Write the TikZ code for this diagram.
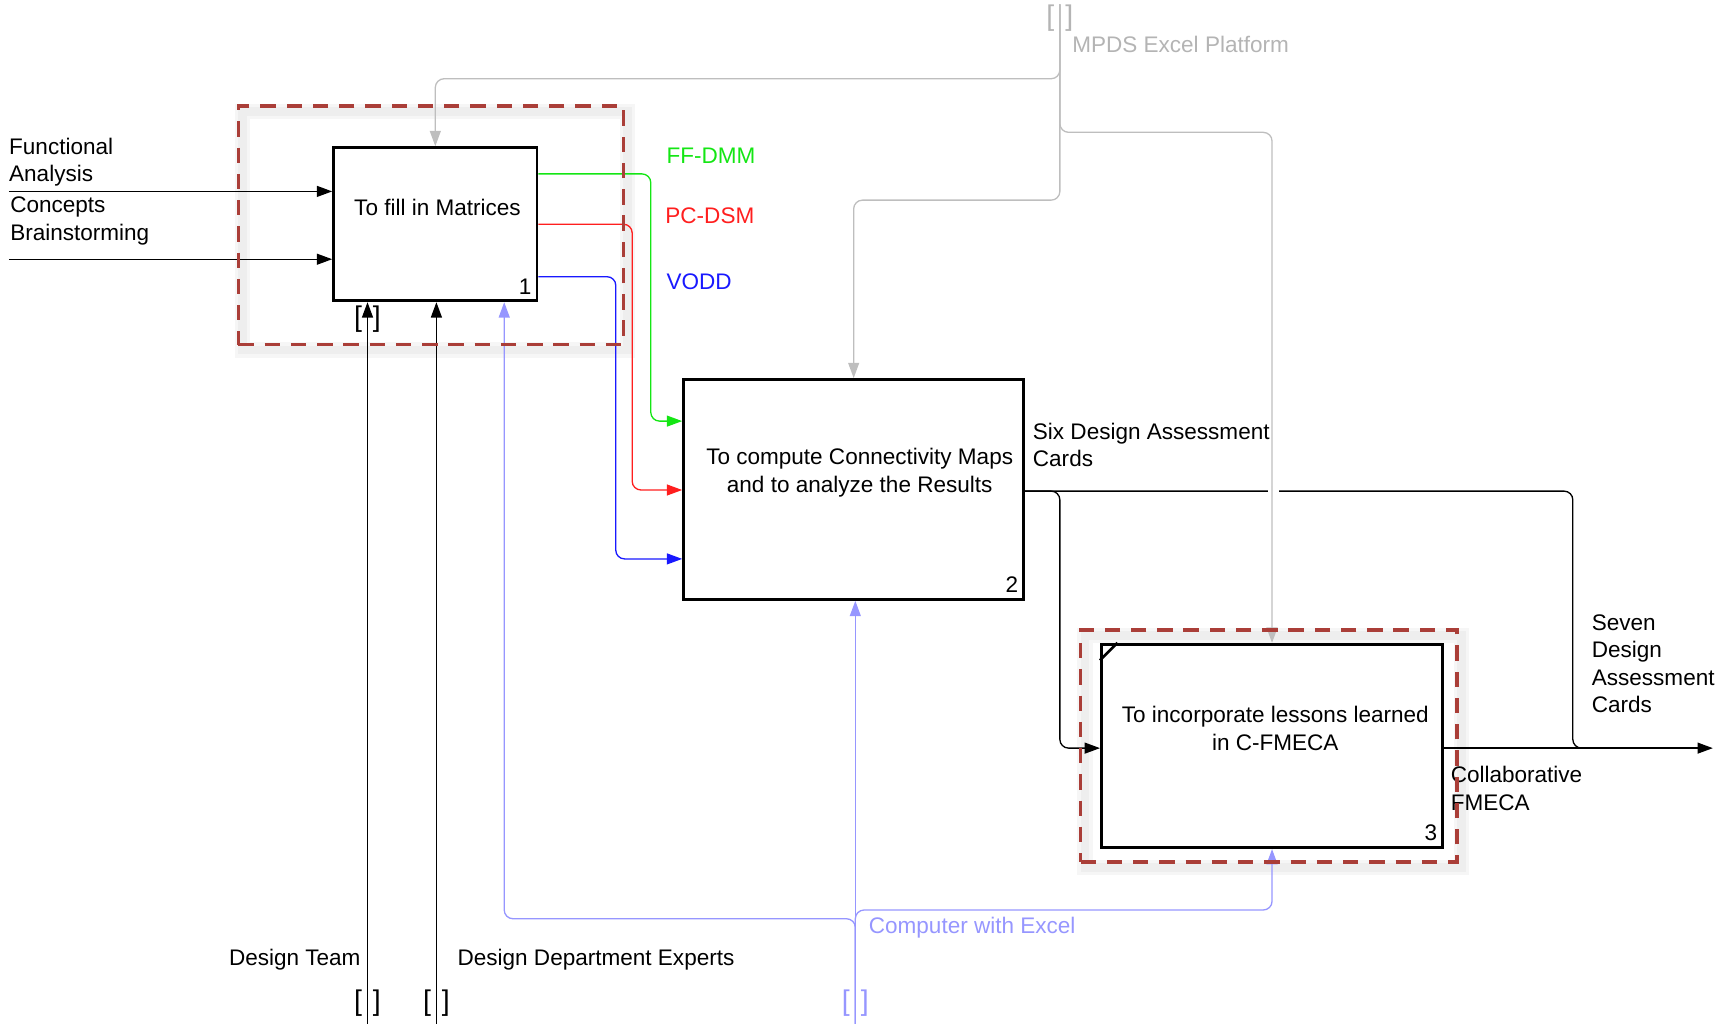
\documentclass[tikz,border=0pt]{standalone}
\usepackage{fontspec}
\setmainfont{Liberation Sans}
\usetikzlibrary{arrows.meta,calc}
\definecolor{boxred}{RGB}{170,62,56}
\definecolor{grn}{RGB}{20,230,20}
\definecolor{rd}{RGB}{255,30,30}
\definecolor{bl}{RGB}{25,25,255}
\definecolor{lb}{RGB}{150,150,255}
\definecolor{gry}{RGB}{190,190,190}
\definecolor{gtx}{RGB}{180,180,180}
\begin{document}
\begin{tikzpicture}[x=0.5pt,y=-0.5pt,
  font=\fontsize{10.3pt}{12.5pt}\selectfont,
  box/.style={draw, line width=1.3pt, inner sep=0pt},
  lbl/.style={inner sep=0pt, align=left},
  arr/.style={-{Triangle[length=7pt,width=5pt]}},
  ln/.style={line width=0.6pt, rounded corners=4pt},
  brk/.style={inner sep=0pt, font=\fontsize{13pt}{14pt}\selectfont},
  dbox/.style={draw=boxred, line width=1.6pt, dash pattern=on 7pt off 5pt, inner sep=0pt},
  shad/.style={line width=#1}
]
\useasboundingbox (0,0) rectangle (1568,936);

% shadows of the dashed frames
\draw[shad=7pt, gray!7] (222,102) rectangle (574,320);
\draw[shad=4pt, gray!13] (222,102) rectangle (574,320);
\draw[shad=7pt, gray!7] (992,581) rectangle (1336,793);
\draw[shad=4pt, gray!13] (992,581) rectangle (1336,793);

% activity boxes
\node[box, fill=white, minimum width=93pt, minimum height=70pt] (b1) at (398,205) {};
\node[box, minimum width=155.5pt, minimum height=100.5pt] (b2) at (780.5,447.5) {};
\node[box, fill=white, minimum width=156pt, minimum height=93pt] (b3) at (1163,682) {};

\node[lbl, align=center] (t1) at (400,190) {To fill in Matrices};
\node[lbl, align=center] (t2) at (786,432) {To compute Connectivity Maps\\and to analyze the Results};
\node[lbl, align=center] (t3) at (1166,666) {To incorporate lessons learned\\in C-FMECA};
\node[lbl, anchor=south east] (n1) at ($(b1.south east)+(-6,-7)$) {1};
\node[lbl, anchor=south east] (n2) at ($(b2.south east)+(-6,-7)$) {2};
\node[lbl, anchor=south east] (n3) at ($(b3.south east)+(-6,-7)$) {3};
\draw[line width=1.2pt] ($(b3.north west)+(0,16)$) -- ($(b3.north west)+(16,0)$);

% free ends
\coordinate (fa) at (8,175);
\coordinate (cb) at (8,237);
\coordinate (mp) at (969,4);
\coordinate (dt) at (336,936);
\coordinate (de) at (399,936);
\coordinate (ce) at (782,936);
\coordinate (cl) at (461,840);
\coordinate (out) at (1566,684);

% inputs
\draw[ln,arr] (fa) -- (fa -| b1.west);
\draw[ln,arr] (cb) -- (cb -| b1.west);

% outputs of box 1
\draw[ln,grn,arr] (b1.east |- 0,159) -- (595,159) -- (595,385) -- (b2.west |- 0,385);
\draw[ln,rd,arr] (b1.east |- 0,205) -- (578,205) -- (578,448) -- (b2.west |- 0,448);
\draw[ln,bl,arr] (b1.east |- 0,253) -- (563,253) -- (563,511) -- (b2.west |- 0,511);

% outputs of box 2 and 3
\draw[ln] (b2.east |- 0,449) -- (1438,449) -- (1438,684) -- (1480,684);
\draw[ln,arr] (b2.east |- 0,449) -- (969,449) -- (969,684) -- (b3.west |- 0,684);
\draw[ln,arr] (b3.east |- 0,684) -- (out);

% mechanisms
\draw[ln,arr] (dt) -- (dt |- b1.south);
\draw[ln,arr] (de) -- (de |- b1.south);
\draw[ln,lb,arr] (ce) -- (ce |- b2.south);
\draw[ln,lb,arr] (ce) -- (ce |- cl) -- (cl) -- (cl |- b1.south);
\draw[ln,lb,arr] (ce) -- (ce |- 0,832) -- (b3.south |- 0,832) -- (b3.south);

% controls
\fill[white] (1159,444) rectangle (1169,454);
\draw[ln,gry,arr] (mp) -- (mp |- 0,72) -- (b1.north |- 0,72) -- (b1.north);
\draw[ln,gry,arr] (mp) -- (mp |- 0,121) -- (b3.north |- 0,121) -- (b3.north);
\draw[ln,gry,arr] (mp) -- (mp |- 0,183) -- (b2.north |- 0,183) -- (b2.north);

% tunnel brackets
\node[brk] (k1) at (336,917) {[\hspace{5pt}]};
\node[brk] (k2) at (399,917) {[\hspace{5pt}]};
\node[brk, text=lb] (k3) at (782,917) {[\hspace{5pt}]};
\node[brk, text=gtx] (k4) at (969,17) {[\hspace{5pt}]};
\node[brk] (k5) at (336,292) {[\hspace{5pt}]};

% labels
\node[lbl, anchor=west] (lfa) at (8,148) {Functional\\Analysis};
\node[lbl, anchor=west] (lcb) at (9,202) {Concepts\\Brainstorming};
\node[lbl, anchor=west, text=grn] (lff) at (609,142) {FF-DMM};
\node[lbl, anchor=west, text=rd] (lpc) at (608,197) {PC-DSM};
\node[lbl, anchor=west, text=bl] (lvo) at (609,258) {VODD};
\node[lbl, anchor=west] (lsix) at (944,407) {Six Design Assessment\\Cards};
\node[lbl, anchor=west] (lcol) at (1326,721) {Collaborative\\FMECA};
\node[lbl, anchor=west] (lsev) at (1455,607) {Seven\\Design\\Assessment\\Cards};
\node[lbl, anchor=east] (ldt) at (330,877) {Design Team};
\node[lbl, anchor=west] (lde) at (418,877) {Design Department Experts};
\node[lbl, anchor=west, text=lb] (lce) at (794,848) {Computer with Excel};
\node[lbl, anchor=west, text=gtx] (lmp) at (980,41) {MPDS Excel Platform};

% dashed frames
\node[dbox, minimum width=176pt, minimum height=109pt] (g1) at (394,206) {};
\node[dbox, minimum width=172pt, minimum height=106pt] (g3) at (1160,682) {};
\end{tikzpicture}
\end{document}
